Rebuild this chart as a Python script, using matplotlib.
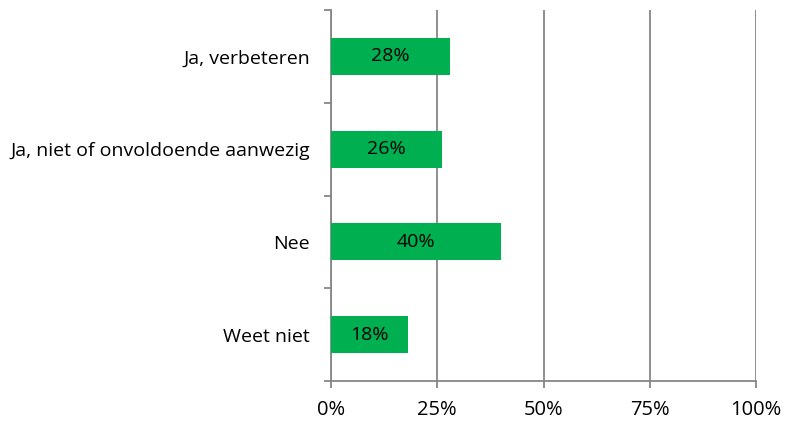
import matplotlib.pyplot as plt
import numpy as np

categories = ['Ja, verbeteren', 'Ja, niet of onvoldoende aanwezig', 'Nee', 'Weet niet']
values = [28, 26, 40, 18]
value_labels = ['28%', '26%', '40%', '18%']
x_ticks = [0, 25, 50, 75, 100]
x_tick_labels = ['0%', '25%', '50%', '75%', '100%']

plt.rcParams['font.family'] = ['Open Sans', 'DejaVu Sans']

fig = plt.figure(figsize=(7.87, 4.21), dpi=100)
ax = fig.add_axes([331 / 787, 1 - 381 / 421, 425 / 787, 371 / 421])

gray = '#868686'
green = '#00B050'

y = np.arange(len(categories))
ax.barh(y, values, height=0.4, color=green, zorder=3)
for yi, v, lab in zip(y, values, value_labels):
    ax.text(v / 2, yi, lab, ha='center', va='center', fontsize=14, color='black', zorder=4)

ax.set_xlim(0, 100)
ax.set_ylim(len(categories) - 0.5, -0.5)
ax.set_xticks(x_ticks)
ax.set_xticklabels(x_tick_labels, fontsize=14.5)
ax.set_yticks(y)
ax.set_yticklabels(categories, fontsize=14)
ax.set_yticks(np.arange(-0.5, len(categories)), minor=True)

ax.xaxis.grid(True, color=gray, linewidth=1.3, zorder=0)
ax.tick_params(axis='x', length=5, width=1.3, color=gray, pad=9)
ax.tick_params(axis='y', which='major', length=0, pad=15)
ax.tick_params(axis='y', which='minor', length=5, width=1.3, color=gray)

for s in ['top', 'right']:
    ax.spines[s].set_visible(False)
for s in ['left', 'bottom']:
    ax.spines[s].set_color(gray)
    ax.spines[s].set_linewidth(1.3)

plt.savefig('out.png', dpi=100)
